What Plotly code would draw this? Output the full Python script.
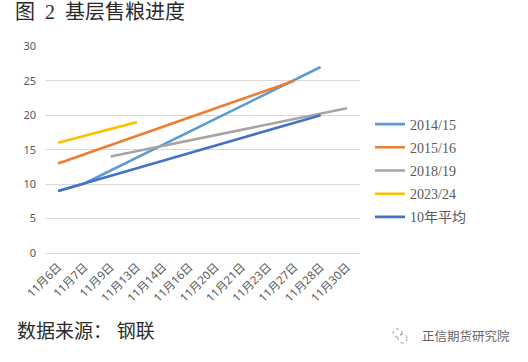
import plotly.graph_objects as go

categories = ["11月6日", "11月7日", "11月9日", "11月13日", "11月14日", "11月16日",
              "11月20日", "11月21日", "11月23日", "11月27日", "11月28日", "11月30日"]

s_2014_15 = [9, 10.1, None, None, None, None, None, None, None, None, 27, None]
s_2015_16 = [13, None, None, None, None, None, None, None, None, 25, None, None]
s_2018_19 = [None, None, 14, None, None, None, None, None, None, None, None, 21]
s_2023_24 = [16, None, None, 19, None, None, None, None, None, None, None, None]
s_avg10 = [9, None, None, None, None, None, None, None, None, None, 20, None]

series_names = ["2014/15", "2015/16", "2018/19", "2023/24", "10年平均"]
series_values = [s_2014_15, s_2015_16, s_2018_19, s_2023_24, s_avg10]
colors = ["#5B9BD5", "#ED7D31", "#A5A5A5", "#FFC000", "#4472C4"]

y_ticks = [0, 5, 10, 15, 20, 25, 30]

serif = "Liberation Serif, Noto Sans CJK SC, serif"
sans = "Noto Sans, Noto Sans CJK SC, sans-serif"

W, H = 528, 362
L, R, T, B = 45, 168, 46, 109
pw, ph = W - L - R, H - T - B

def px(x):
    return (x - L) / pw

def py(y):
    return (H - B - y) / ph

fig = go.Figure()
for name, vals, c in zip(series_names, series_values, colors):
    fig.add_trace(go.Scatter(
        x=categories, y=vals, name=name, mode="lines", connectgaps=True,
        line=dict(color=c, width=2.6), legendgroup=name,
    ))

fig.update_layout(
    width=W, height=H,
    margin=dict(l=L, r=R, t=T, b=B),
    paper_bgcolor="white", plot_bgcolor="white",
    title=dict(text="图\u00a0\u00a02\u00a0\u00a0基层售粮进度", x=15 / W, xref="container", xanchor="left",
               y=1 - 12 / H, yref="container", yanchor="middle",
               font=dict(family=serif, size=20, color="#2a2a2a")),
    showlegend=True,
    legend=dict(x=px(370), y=py(108.5), xanchor="left", yanchor="top",
                font=dict(family=serif, size=14, color="#595959"),
                tracegroupgap=2, bgcolor="rgba(0,0,0,0)"),
    xaxis=dict(type="category", range=[-0.5, 11.5], showgrid=False, showline=False,
               zeroline=False, tickangle=-45, ticks="",
               tickfont=dict(family=sans, size=11.5, color="#595959"),
               ticklabelstandoff=4),
    yaxis=dict(range=[0, 30.05], tickvals=y_ticks, showgrid=True, gridcolor="#D9D9D9",
               gridwidth=1, zeroline=True, zerolinecolor="#D9D9D9", zerolinewidth=1,
               showline=False, ticks="",
               tickfont=dict(family=sans, size=11, color="#595959"),
               ticklabelstandoff=8),
)

fig.add_annotation(text="数据来源：\u00a0钢联", x=px(15), y=py(331), xref="paper", yref="paper",
                   xanchor="left", yanchor="middle", showarrow=False,
                   font=dict(family=serif, size=19, color="#2a2a2a"))
fig.add_annotation(text="正信期货研究院", x=px(420), y=py(336), xref="paper", yref="paper",
                   xanchor="left", yanchor="middle", showarrow=False,
                   font=dict(family=sans, size=12.5, color="#666666"))
fig.add_shape(type="circle", xref="paper", yref="paper",
              x0=px(393), x1=px(402), y0=py(337), y1=py(329),
              line=dict(color="#999999", width=1, dash="dot"))
fig.add_shape(type="circle", xref="paper", yref="paper",
              x0=px(398), x1=px(407), y0=py(343), y1=py(334),
              line=dict(color="#999999", width=1, dash="dot"))

fig.write_html("out.html", config={"displayModeBar": False},
               post_script="document.body.style.margin='0px';")
